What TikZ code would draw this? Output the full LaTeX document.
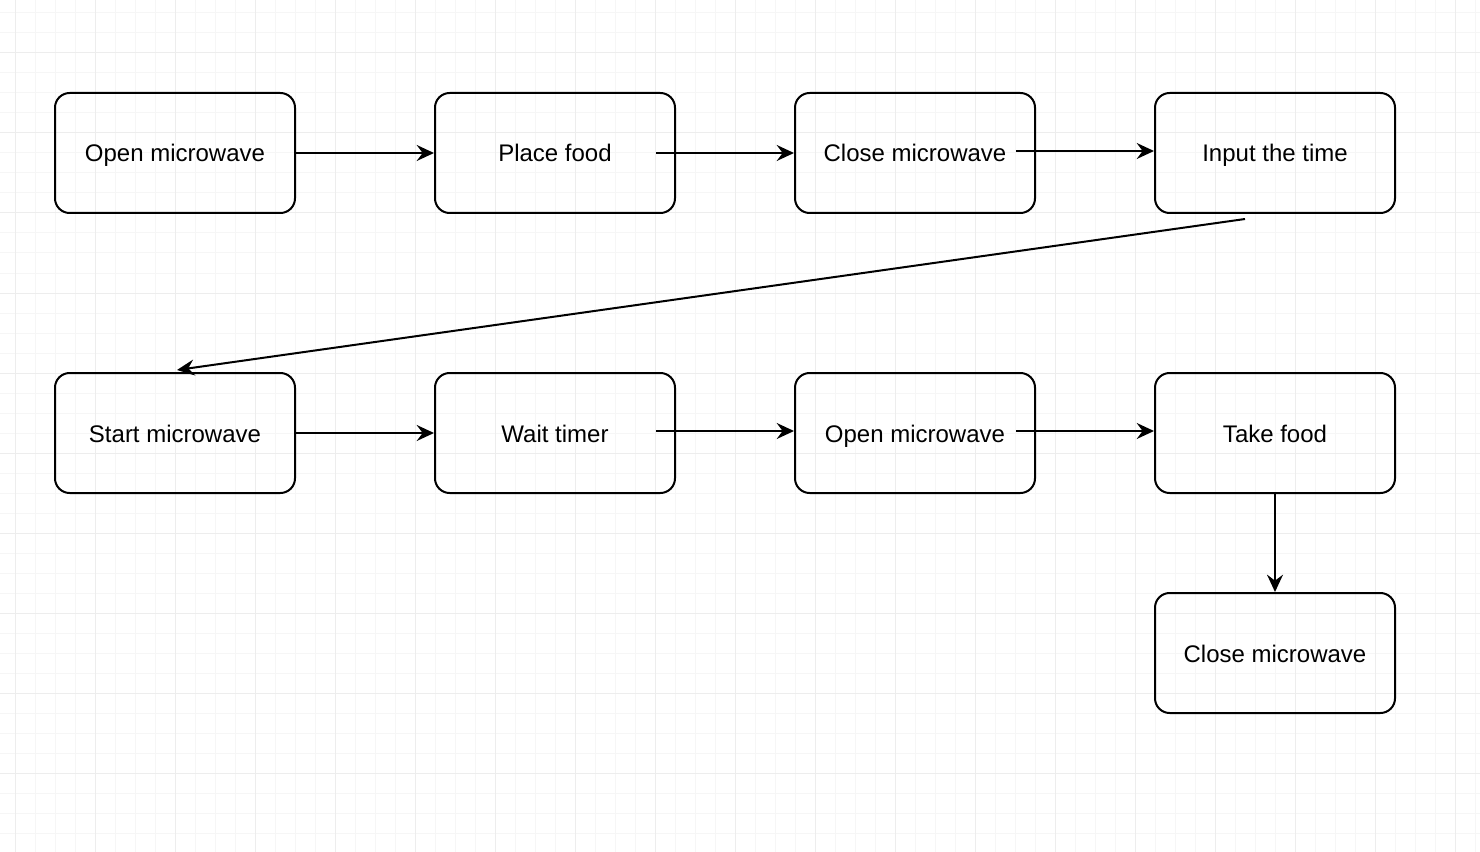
\documentclass[tikz,border=0pt]{standalone}
\usepackage{fontspec}
\setmainfont{Liberation Sans}
\usetikzlibrary{positioning, arrows.meta}
\tikzset{
x=0.75pt, y=-0.75pt, % one unit is one pixel of the screenshot
>={Stealth[length=13pt, width=12pt, inset=4.5pt]}, % bold arrow heads
step box/.style={draw, line width=1.5pt, rounded corners=11pt, minimum width=180pt, minimum height=90pt, text height=15pt, text depth=1.5pt, font=\fontsize{18}{22}\selectfont}, % every step of the flow
flow/.style={->, line width=1.5pt}, % the connectors
minor grid/.style={gray!7, line width=0.75pt},
major grid/.style={gray!14, line width=0.75pt},
}
\begin{document}
\begin{tikzpicture}
        \useasboundingbox (0,0) rectangle (1480,852);
        \fill[white] (0,0) rectangle (1480,852);
        % background grid
        \foreach \x in {15,35,...,1475} \draw[minor grid] (\x,0) -- (\x,852);
        \foreach \y in {13,33,...,852} \draw[minor grid] (0,\y) -- (1480,\y);
        \foreach \x in {15,95,...,1475} \draw[major grid] (\x,0) -- (\x,852);
        \foreach \y in {53,133,...,852} \draw[major grid] (0,\y) -- (1480,\y);

        \node[step box] (open1) at (175,153) {Open microwave};
        \node[step box] (place) at (555,153) {Place food};
        \node[step box] (close1) at (915,153) {Close microwave};
        \node[step box] (input) at (1275,153) {Input the time};
        \node[step box] (start) at (175,433) {Start microwave};
        \node[step box] (wait) at (555,433) {Wait timer};
        \node[step box] (open2) at (915,433) {Open microwave};
        \node[step box] (take) at (1275,433) {Take food};
        \node[step box, below=73.5pt of take] (close2) {Close microwave};

        \coordinate (input out) at ([xshift=-22.5pt, yshift=-3.75pt]input.south);
        \coordinate (start in) at ([xshift=1.5pt, yshift=1.5pt]start.north);

        \draw[flow] (open1) -- (place);
        \draw[flow] ([xshift=-15pt]place.east) -- (close1);
        \draw[flow] ([xshift=-15pt, yshift=1.5pt]close1.east) -- ([yshift=1.5pt]input.west);
        \draw[flow] (input out) -- (start in);
        \draw[flow] (start) -- (wait);
        \draw[flow] ([xshift=-15pt, yshift=1.5pt]wait.east) -- ([yshift=1.5pt]open2.west);
        \draw[flow] ([xshift=-15pt, yshift=1.5pt]open2.east) -- ([yshift=1.5pt]take.west);
        \draw[flow] (take) -- (close2);
\end{tikzpicture}
\end{document}
